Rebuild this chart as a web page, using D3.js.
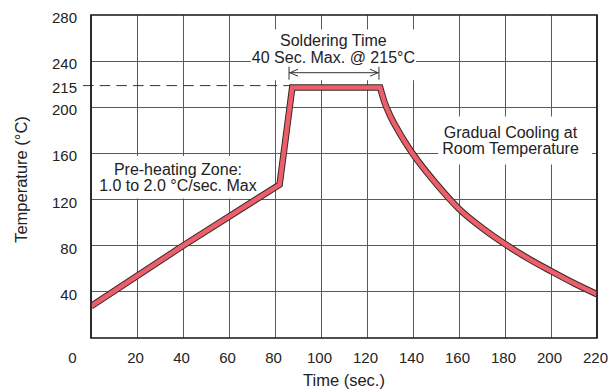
<!DOCTYPE html>
<html>
<head>
<meta charset="utf-8">
<script src="https://cdn.jsdelivr.net/npm/d3@7/dist/d3.min.js"></script>
<style>
  html, body { margin: 0; padding: 0; background: #fff; }
  svg { display: block; font-family: "Liberation Sans", Arial, Helvetica, sans-serif; }
</style>
</head>
<body>
<svg id="chart" width="613" height="390"></svg>
<script>
// ---------- data ----------
const timeTicks = [0, 20, 40, 60, 80, 100, 120, 140, 160, 180, 200, 220];
const tempTicks = [40, 80, 120, 160, 200, 240, 280];
const tempTickLabels = ["40", "80", "120", "160", "200", "240", "280"];
const refTempLabel = "215";
const refTempLevel = 218.8;          // where the 215 reference line sits in the picture
const profileTime = [0, 40, 82, 87.5, 125.7, 127.5, 130, 133.5, 139.8, 150, 160, 170, 180, 190, 200, 210, 220];
const profileTemp = [27.5, 80, 133, 217.2, 217.2, 205, 193, 180, 160, 134, 112, 95.5, 81.5, 69, 58, 47.5, 38];
const solderStart = 86.1, solderEnd = 125.2;
const xTitle = "Time (sec.)";
const yTitle = "Temperature (°C)";
const solderLines = ["Soldering Time", "40 Sec. Max. @ 215°C"];
const preheatLines = ["Pre-heating Zone:", "1.0 to 2.0 °C/sec. Max"];
const coolingLines = ["Gradual Cooling at", "Room Temperature"];

// ---------- layout ----------
const svg = d3.select("#chart");
const L = 91, R = 597, T = 15, B = 338;
const x = d3.scaleLinear().domain([0, 220]).range([L, R]);
const y = d3.scaleLinear().domain([0, 280]).range([B, T]);
const ink = "#222";
const gridColor = "#5a5a5a";

// grid
const grid = svg.append("g");
grid.selectAll("line.v").data(timeTicks.filter(d => d > 0 && d < 220)).join("line")
  .attr("x1", d => x(d)).attr("x2", d => x(d)).attr("y1", T).attr("y2", B)
  .attr("stroke", gridColor).attr("stroke-width", 1).attr("shape-rendering", "crispEdges");
grid.selectAll("line.h").data(tempTicks.filter(d => d < 280)).join("line")
  .attr("x1", L).attr("x2", R).attr("y1", d => y(d)).attr("y2", d => y(d))
  .attr("stroke", gridColor).attr("stroke-width", 1).attr("shape-rendering", "crispEdges");

// annotation helper: text block with white box behind
const boxLayer = svg.append("g");
const textLayer = svg.append("g");
function block(lines, cx, baseline, lh, pad, extraBottom) {
  const g = textLayer.append("g");
  lines.forEach((s, i) => {
    g.append("text").attr("x", cx).attr("y", baseline + i * lh)
      .attr("text-anchor", "middle").attr("font-size", 16).attr("fill", ink).text(s);
  });
  const bb = g.node().getBBox();
  boxLayer.append("rect")
    .attr("x", bb.x - pad.l).attr("y", bb.y - pad.t)
    .attr("width", bb.width + pad.l + pad.r)
    .attr("height", (extraBottom != null ? extraBottom - (bb.y - pad.t) : bb.height + pad.t + pad.b))
    .attr("fill", "#fff");
  return bb;
}

const arrowY = 72.7;
block(solderLines, x(105.4), 45.5, 17, {l: 1, r: 1, t: 2}, arrowY + 7.5);
block(preheatLines, x(37.8), 175, 15.5, {l: 6, r: 6, t: 5, b: 5});
block(coolingLines, x(182.4), 137.5, 16, {l: 4, r: 13, t: 7, b: 8});

// frame
svg.append("rect").attr("x", L).attr("y", T).attr("width", R - L).attr("height", B - T)
  .attr("fill", "none").attr("stroke", ink).attr("stroke-width", 1.6);

// reference dashed line at 215
svg.append("line")
  .attr("x1", L - 8).attr("x2", x(profileTime[3]) - 1)
  .attr("y1", y(refTempLevel)).attr("y2", y(refTempLevel))
  .attr("stroke", "#333").attr("stroke-width", 1).attr("stroke-dasharray", "10.5,6.2");

// profile band
const pts = profileTime.map((t, i) => [t, profileTemp[i]]);
const lin = d3.line().x(d => x(d[0])).y(d => y(d[1])).curve(d3.curveLinear);
const mono = d3.line().x(d => x(d[0])).y(d => y(d[1])).curve(d3.curveMonotoneX);
const p1 = lin(pts.slice(0, 5));
const p2 = mono(pts.slice(4)).replace(/^M[^A-Za-z]*/, "");
const pathD = p1 + p2;
svg.append("clipPath").attr("id", "plotclip").append("rect")
  .attr("x", L).attr("y", T).attr("width", R - L).attr("height", B - T);
svg.append("path").attr("d", pathD).attr("fill", "none").attr("stroke", "#3a2828")
  .attr("stroke-width", 6.6).attr("stroke-linejoin", "miter").attr("clip-path", "url(#plotclip)");
svg.append("path").attr("d", pathD).attr("fill", "none").attr("stroke", "#ec5f6a")
  .attr("stroke-width", 4.6).attr("stroke-linejoin", "miter").attr("clip-path", "url(#plotclip)");
// redraw frame edges over clipped band ends
svg.append("line").attr("x1", L).attr("x2", L).attr("y1", T).attr("y2", B).attr("stroke", ink).attr("stroke-width", 1.6);
svg.append("line").attr("x1", R).attr("x2", R).attr("y1", T).attr("y2", B).attr("stroke", ink).attr("stroke-width", 1.6);

// soldering time arrow
const ax1 = x(solderStart), ax2 = x(solderEnd);
const arr = svg.append("g").attr("stroke", "#333").attr("fill", "none").attr("stroke-width", 1);
arr.append("line").attr("x1", ax1).attr("x2", ax2).attr("y1", arrowY).attr("y2", arrowY);
arr.append("line").attr("x1", ax1).attr("x2", ax1).attr("y1", arrowY - 6).attr("y2", arrowY + 7);
arr.append("line").attr("x1", ax2).attr("x2", ax2).attr("y1", arrowY - 6).attr("y2", arrowY + 7);
arr.append("path").attr("d", `M${ax1 + 9},${arrowY - 3.5}L${ax1 + 1},${arrowY}L${ax1 + 9},${arrowY + 3.5}`);
arr.append("path").attr("d", `M${ax2 - 9},${arrowY - 3.5}L${ax2 - 1},${arrowY}L${ax2 - 9},${arrowY + 3.5}`);

// tick labels
svg.append("g").selectAll("text").data(tempTicks).join("text")
  .attr("x", 77).attr("y", d => y(d) + 2.5).attr("dominant-baseline", "central")
  .attr("text-anchor", "end").attr("font-size", 15).attr("fill", ink)
  .text((d, i) => tempTickLabels[i]);
svg.append("text").attr("x", 77).attr("y", y(refTempLevel) + 1.5).attr("dominant-baseline", "central")
  .attr("text-anchor", "end").attr("font-size", 15).attr("fill", ink).text(refTempLabel);
svg.append("g").selectAll("text").data(timeTicks).join("text")
  .attr("x", d => d === 0 ? x(d) - 18.5 : x(d) - 1.5).attr("y", 357).attr("dominant-baseline", "central")
  .attr("text-anchor", "middle").attr("font-size", 15).attr("fill", ink)
  .text(d => d);

// axis titles
svg.append("text").attr("x", x(110)).attr("y", 380).attr("dominant-baseline", "central")
  .attr("text-anchor", "middle").attr("font-size", 16.5).attr("fill", ink).text(xTitle);
svg.append("text").attr("transform", `translate(21,${(T + B) / 2 + 3}) rotate(-90)`)
  .attr("dominant-baseline", "central")
  .attr("text-anchor", "middle").attr("font-size", 16.5).attr("fill", ink).text(yTitle);
</script>
</body>
</html>
